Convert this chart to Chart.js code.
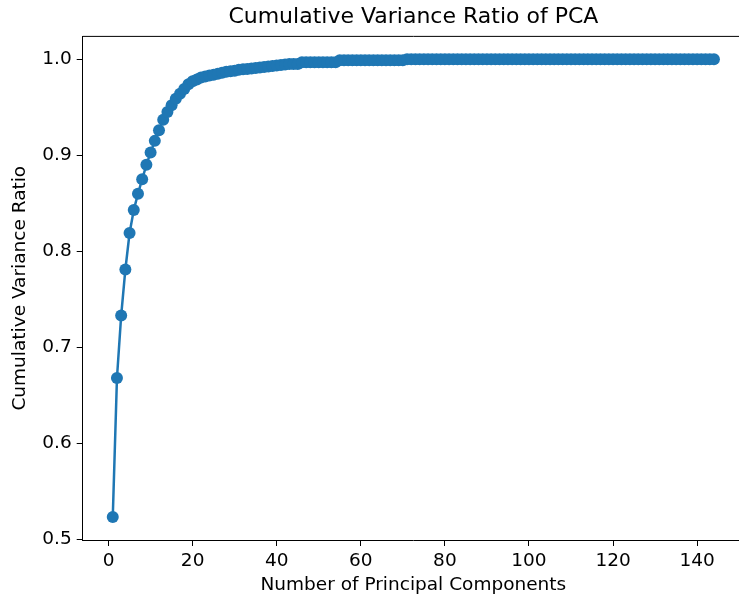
<!DOCTYPE html>
<html>
<head>
<meta charset="utf-8">
<script src="https://cdn.jsdelivr.net/npm/chart.js@4"></script>
<style>
  html, body { margin: 0; padding: 0; background: #fff; overflow: hidden; }
  #wrap { width: 739px; height: 598px; overflow: hidden; }
</style>
</head>
<body>
<div id="wrap"><canvas id="pca-chart" width="750" height="598"></canvas></div>
<script>
// cumulative explained variance (components 1..144)
const cumulativeRatio = [
  0.523, 0.668, 0.733, 0.781, 0.819, 0.843, 0.860, 0.875, 0.890, 0.903,
  0.915, 0.926, 0.937, 0.945, 0.952, 0.959, 0.964, 0.969, 0.974, 0.977,
  0.979, 0.981, 0.982, 0.983, 0.984, 0.985, 0.986, 0.987, 0.9875, 0.988,
  0.989, 0.9895, 0.990, 0.9905, 0.991, 0.9915, 0.992, 0.9925, 0.993, 0.9935,
  0.994, 0.9945, 0.995, 0.995, 0.995, 0.997, 0.997, 0.997, 0.997, 0.997,
  0.997, 0.997, 0.997, 0.997, 0.999, 0.999, 0.999, 0.999, 0.999, 0.999,
  0.999, 0.999, 0.999, 0.999, 0.999, 0.999, 0.999, 0.999, 0.999, 0.999,
  1.0, 1.0, 1.0, 1.0, 1.0, 1.0, 1.0, 1.0, 1.0, 1.0,
  1.0, 1.0, 1.0, 1.0, 1.0, 1.0, 1.0, 1.0, 1.0, 1.0,
  1.0, 1.0, 1.0, 1.0, 1.0, 1.0, 1.0, 1.0, 1.0, 1.0,
  1.0, 1.0, 1.0, 1.0, 1.0, 1.0, 1.0, 1.0, 1.0, 1.0,
  1.0, 1.0, 1.0, 1.0, 1.0, 1.0, 1.0, 1.0, 1.0, 1.0,
  1.0, 1.0, 1.0, 1.0, 1.0, 1.0, 1.0, 1.0, 1.0, 1.0,
  1.0, 1.0, 1.0, 1.0, 1.0, 1.0, 1.0, 1.0, 1.0, 1.0,
  1.0, 1.0, 1.0, 1.0
];
const components = cumulativeRatio.map((_, i) => i + 1);

const xTicks = [0, 20, 40, 60, 80, 100, 120, 140];
const yTicks = [0.5, 0.6, 0.7, 0.8, 0.9, 1.0];

const FONT = "'DejaVu Sans', sans-serif";
const blue = '#1f77b4';

// top spine like matplotlib (the right one sits past the window edge)
const frame = {
  id: 'frame',
  afterDatasetsDraw(chart) {
    const { ctx, chartArea: a } = chart;
    ctx.save();
    ctx.strokeStyle = '#000';
    ctx.lineWidth = 1;
    ctx.beginPath();
    ctx.moveTo(a.left, a.top);
    ctx.lineTo(a.right, a.top);
    ctx.stroke();
    ctx.restore();
  }
};

new Chart(document.getElementById('pca-chart'), {
  type: 'line',
  data: {
    datasets: [{
      data: components.map((c, i) => ({ x: c, y: cumulativeRatio[i] })),
      borderColor: blue,
      backgroundColor: blue,
      borderWidth: 2.5,
      pointRadius: 6,
      pointBorderWidth: 0,
      pointBackgroundColor: blue,
      tension: 0,
      fill: false
    }]
  },
  plugins: [frame],
  options: {
    responsive: false,
    animation: false,
    layout: { padding: { left: 0, right: 1, top: 0, bottom: 0 } },
    plugins: {
      legend: { display: false },
      tooltip: { enabled: false },
      title: {
        display: true,
        fullSize: false, // centre over the axes, not the canvas
        text: 'Cumulative Variance Ratio of PCA',
        color: '#000',
        font: { family: FONT, size: 22, weight: 'normal' },
        padding: { top: 4, bottom: 6 }
      }
    },
    scales: {
      x: {
        type: 'linear',
        min: -6.15,
        max: 151.15,
        afterBuildTicks: s => { s.ticks = xTicks.map(v => ({ value: v })); },
        afterFit: s => { s.height = 58; },
        ticks: {
          color: '#000',
          font: { family: FONT, size: 18.5 },
          padding: 4,
          maxRotation: 0,
          callback: v => String(v)
        },
        grid: { drawOnChartArea: false, drawTicks: true, tickLength: 6, tickColor: '#000' },
        border: { color: '#000', width: 1 },
        title: {
          display: true,
          text: 'Number of Principal Components',
          color: '#000',
          font: { family: FONT, size: 18.5 },
          padding: { top: 0, bottom: 2 }
        }
      },
      y: {
        min: 0.49915,
        max: 1.02385,
        afterBuildTicks: s => { s.ticks = yTicks.map(v => ({ value: v })); },
        afterFit: s => { s.width = 82.7; },
        ticks: {
          color: '#000',
          font: { family: FONT, size: 18.5 },
          padding: 5,
          callback: v => v.toFixed(1)
        },
        grid: { drawOnChartArea: false, drawTicks: true, tickLength: 6, tickColor: '#000' },
        border: { color: '#000', width: 1 },
        title: {
          display: true,
          text: 'Cumulative Variance Ratio',
          color: '#000',
          font: { family: FONT, size: 18.5 },
          padding: { top: 9, bottom: 0 }
        }
      }
    }
  }
});
</script>
</body>
</html>
